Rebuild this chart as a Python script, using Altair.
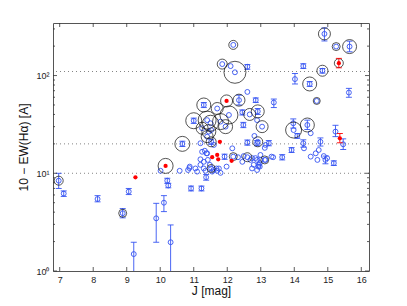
import altair as alt
import pandas as pd

# ---- data ----
# blue sample, points with visible error bars: J [mag], 10-EW(Ha), bar low, bar high
BLUE_ERR_J = [6.97, 7.12, 8.13, 8.88, 9.06, 9.21, 9.88, 10.11, 10.31, 10.21, 10.24, 10.92,
              11.23, 11.37, 10.66, 11.92, 12.91, 12.45, 12.48, 12.60, 13.24, 11.30, 11.00,
              11.52, 13.64, 12.89, 12.60, 12.35, 12.85, 14.90, 15.65, 14.27, 14.84, 14.02,
              14.46, 15.63, 13.39, 13.97, 14.09, 14.39, 14.27, 13.92, 14.78, 14.93, 15.18,
              15.23, 15.46]
BLUE_ERR_V = [8.4, 6.2, 5.45, 3.9, 6.5, 1.49, 3.46, 5.0, 1.97, 8.4, 7.5, 7.0,
              7.0, 9.1, 20.0, 14.8, 43, 42, 31.2, 20.6, 20.3, 50, 34.5,
              21, 14.6, 20.3, 123, 56, 56, 267, 198, 125, 112, 92,
              82, 67, 53, 32.5, 24.1, 31.2, 20.3, 17.3, 21, 13.7, 12.7,
              26.7, 19.8]
BLUE_ERR_LO = [7.0, 5.8, 5.1, 3.5, 6.05, 0.5, 1.97, 4.05, 0.5, 7.9, 7.1, 6.6,
               6.6, 8.5, 18.8, 13.9, 40, 39.5, 29.3, 19.4, 19.1, 47, 32.4,
               19.8, 13.7, 19.1, 116, 50, 53, 226, 175, 118, 106, 82,
               77.5, 60, 47, 29, 22.8, 28, 18.5, 16.3, 19, 12.5, 12.0,
               23.7, 17.5]
BLUE_ERR_HI = [10.0, 6.6, 5.9, 4.35, 7.0, 1.97, 4.93, 5.9, 2.96, 8.9, 7.9, 7.4,
               7.4, 9.7, 21.3, 15.7, 46, 44.5, 33.2, 21.9, 21.6, 53, 36.7,
               22.3, 15.5, 21.6, 130, 63, 59, 307, 225, 132, 118, 105,
               87, 74, 57.5, 36, 25.5, 35, 22, 18.3, 23, 15, 13.4,
               31, 22.5]

# blue sample, points whose error bars hide inside the marker
BLUE_PLAIN_J = [10.01, 10.58, 10.83, 10.87, 11.20, 11.30, 11.48, 11.52, 11.75, 11.70, 11.80,
                11.35, 11.20, 11.30, 11.42, 12.18, 12.32, 12.60, 12.45, 12.69, 12.79, 12.89,
                12.94, 11.25, 11.38, 11.05, 11.10, 10.88, 12.67, 13.04, 12.81, 12.91, 13.14,
                11.70, 12.05, 11.40, 11.50, 11.80, 11.95, 11.25, 11.45, 11.20, 11.33, 11.40,
                12.15, 12.49, 12.74, 12.84, 12.99, 13.14, 12.99, 13.37, 12.74, 12.89, 12.97,
                11.68, 11.59, 11.98, 11.55, 11.60, 12.89, 11.40, 11.52, 12.18, 11.85, 12.10,
                12.23, 12.60, 15.25, 14.67, 13.98, 14.49, 14.29, 14.73, 14.64, 14.49, 14.69,
                14.88, 14.98, 13.12, 13.12, 12.97, 12.93, 13.32]
BLUE_PLAIN_V = [10.6, 10.6, 10.8, 11.3, 12.2, 11.2, 12.2, 11.2, 11.2, 10.6, 10.1,
                10.6, 13.9, 13.1, 13.7, 14.8, 14.6, 14.6, 13.1, 13.7, 12.2, 13.7,
                12.2, 16.6, 16.0, 11.2, 10.4, 11.7, 40, 30, 24.1, 21, 19.5,
                46, 39.5, 35, 32.5, 33.8, 30, 28.9, 26.7, 20.3, 17, 16,
                18, 15, 14.3, 14.3, 15.4, 13.7, 13.7, 14.6, 11.2, 10.8, 11.7,
                11.2, 10.8, 11.7, 10.4, 19.5, 35, 23.7, 27.7, 206, 131, 125,
                108, 68, 198, 55, 27.7, 25.7, 18, 17.3, 16, 14.8, 13.7,
                15, 14.3, 13.7, 18.2, 12.7, 11.7, 14.8]

# black open circles (centre J, value, circle radius quantity)
CIRC_J = [6.97, 8.88, 10.16, 10.66, 11.52, 12.18, 12.60, 12.91, 12.67, 13.04, 12.91, 11.30,
          11.70, 12.05, 11.40, 11.50, 11.80, 11.95, 11.00, 11.25, 11.45, 11.52, 12.18, 11.85,
          12.23, 11.98, 12.35, 14.90, 15.25, 15.65, 15.33, 14.84, 14.46, 14.67, 13.98, 14.39,
          13.12, 11.40]
CIRC_V = [8.4, 3.9, 11.9, 20.0, 11.2, 14.8, 14.6, 43, 40, 30, 21, 50,
          46, 39.5, 35, 32.5, 33.8, 30, 34.5, 28.9, 26.7, 21, 206, 131,
          108, 55, 56, 267, 198, 198, 134, 112, 82, 55, 27.7, 31.2,
          13.7, 23.7]
CIRC_R = [4.5, 4, 7.5, 7.5, 4, 4, 4.5, 6.5, 6, 6, 5, 7,
          6, 9, 9, 8, 8, 7, 8, 6, 7, 5, 4.5, 5,
          11, 6, 6, 6, 4, 7, 4.5, 5.5, 7, 3.5, 8, 7,
          4, 6]

# red filled points
RED_J = [9.26, 10.16, 11.98, 11.78, 11.55, 11.70, 11.73, 12.13, 15.33, 15.36]
RED_V = [9.1, 11.9, 55, 21, 14.6, 15.4, 13.9, 13.4, 134, 22.8]
RED_ERR_J = [15.33, 15.36]
RED_ERR_LO = [120, 20.5]
RED_ERR_HI = [150, 25.5]

REF_LINES = [10, 20, 110]
X_TICKS = [7, 8, 9, 10, 11, 12, 13, 14, 15, 16]
Y_MAJOR = [1, 10, 100]
Y_MINOR = [2, 3, 4, 5, 6, 7, 8, 9, 20, 30, 40, 50, 60, 70, 80, 90, 200, 300]

# ---- chart ----
W, H = 316, 248
FONT = "Liberation Sans"
BLUE = "#3554f2"
RED = "#ff0000"

xs = alt.Scale(domain=[6.8, 16.23], nice=False, zero=False)
ys = alt.Scale(type="log", domain=[1, 345], nice=False)

xax = alt.Axis(values=X_TICKS, title="J [mag]", tickSize=0, domain=False, grid=False,
               labelFontSize=9, labelPadding=4, titleFontSize=12, titlePadding=1,
               labelFont=FONT, titleFont=FONT, labelColor="#222", titleColor="#111",
               titleFontWeight="normal")
yax = alt.Axis(values=Y_MAJOR,
               labelExpr="datum.value == 1 ? '10\u2070' : datum.value == 10 ? '10\u00b9' : '10\u00b2'",
               title="10 \u2212 EW(H\u03b1) [A]", tickSize=0, domain=False, grid=False,
               labelFontSize=9, labelPadding=4, titleFontSize=12, titlePadding=5,
               labelFont=FONT, titleFont=FONT, labelColor="#222", titleColor="#111",
               titleFontWeight="normal")

err = pd.DataFrame({"J": BLUE_ERR_J, "V": BLUE_ERR_V, "LO": BLUE_ERR_LO, "HI": BLUE_ERR_HI})
plain = pd.DataFrame({"J": BLUE_PLAIN_J, "V": BLUE_PLAIN_V})
blue_pts = pd.concat([plain, err[["J", "V"]]], ignore_index=True)
caps = pd.DataFrame({"J": BLUE_ERR_J + BLUE_ERR_J, "V": BLUE_ERR_LO + BLUE_ERR_HI})
circ = pd.DataFrame({"J": CIRC_J, "V": CIRC_V, "R": CIRC_R})
red = pd.DataFrame({"J": RED_J, "V": RED_V})
red_err = pd.DataFrame({"J": RED_ERR_J, "LO": RED_ERR_LO, "HI": RED_ERR_HI})
red_caps = pd.DataFrame({"J": RED_ERR_J + RED_ERR_J, "V": RED_ERR_LO + RED_ERR_HI})

X = lambda f="J": alt.X(f"{f}:Q", scale=xs, axis=xax)
Y = lambda f="V": alt.Y(f"{f}:Q", scale=ys, axis=yax)

ref = alt.Chart(pd.DataFrame({"V": REF_LINES})).mark_rule(
    strokeDash=[1, 3], color="#777", strokeWidth=0.9).encode(y=Y())

base = alt.Chart(blue_pts).mark_point(shape="circle", filled=False, size=24, color=BLUE,
                                      strokeWidth=0.9, opacity=1).encode(x=X(), y=Y())

bars = alt.Chart(err).mark_rule(color=BLUE, strokeWidth=0.9, clip=True).encode(
    x=X(), y=Y("LO"), y2="HI:Q")
cap = alt.Chart(caps).mark_tick(orient="horizontal", size=6, thickness=0.9, color=BLUE,
                                clip=True, opacity=1).encode(x=X(), y=Y())

circles = alt.Chart(circ).mark_point(shape="circle", filled=False, color="#111",
                                     strokeWidth=0.8, opacity=0.9).encode(
    x=X(), y=Y(),
    size=alt.Size("R:Q", scale=alt.Scale(type="pow", exponent=2, domain=[0, 12],
                                         range=[0, 576]), legend=None))

rbars = alt.Chart(red_err).mark_rule(color=RED, strokeWidth=0.9).encode(
    x=X(), y=Y("LO"), y2="HI:Q")
rcap = alt.Chart(red_caps).mark_tick(orient="horizontal", size=6, thickness=0.9,
                                     color=RED, opacity=1).encode(x=X(), y=Y())
reds = alt.Chart(red).mark_point(shape="circle", filled=True, size=18, color=RED,
                                 opacity=1).encode(x=X(), y=Y())

# inward axis ticks (box style)
tick_style = dict(color="#333", strokeWidth=0.8)
xt = pd.DataFrame({"J": X_TICKS})
ymaj = pd.DataFrame({"V": Y_MAJOR})
ymin = pd.DataFrame({"V": Y_MINOR})
tk = [
    alt.Chart(xt).mark_rule(**tick_style).encode(x=X(), y=alt.value(H), y2=alt.value(H - 4)),
    alt.Chart(xt).mark_rule(**tick_style).encode(x=X(), y=alt.value(0), y2=alt.value(4)),
    alt.Chart(ymaj).mark_rule(**tick_style).encode(y=Y(), x=alt.value(0), x2=alt.value(4)),
    alt.Chart(ymaj).mark_rule(**tick_style).encode(y=Y(), x=alt.value(W), x2=alt.value(W - 4)),
    alt.Chart(ymin).mark_rule(**tick_style).encode(y=Y(), x=alt.value(0), x2=alt.value(2)),
    alt.Chart(ymin).mark_rule(**tick_style).encode(y=Y(), x=alt.value(W), x2=alt.value(W - 2)),
]

chart = alt.layer(ref, bars, cap, base, circles, rbars, rcap, reds, *tk).properties(
    width=W, height=H,
    autosize=alt.AutoSizeParams(type="none"),
    padding={"left": 45, "top": 15, "right": 30, "bottom": 27},
    background="white",
).configure_view(stroke="#555", strokeWidth=1)

chart.save("out.html", embed_options={"renderer": "svg", "actions": False})
